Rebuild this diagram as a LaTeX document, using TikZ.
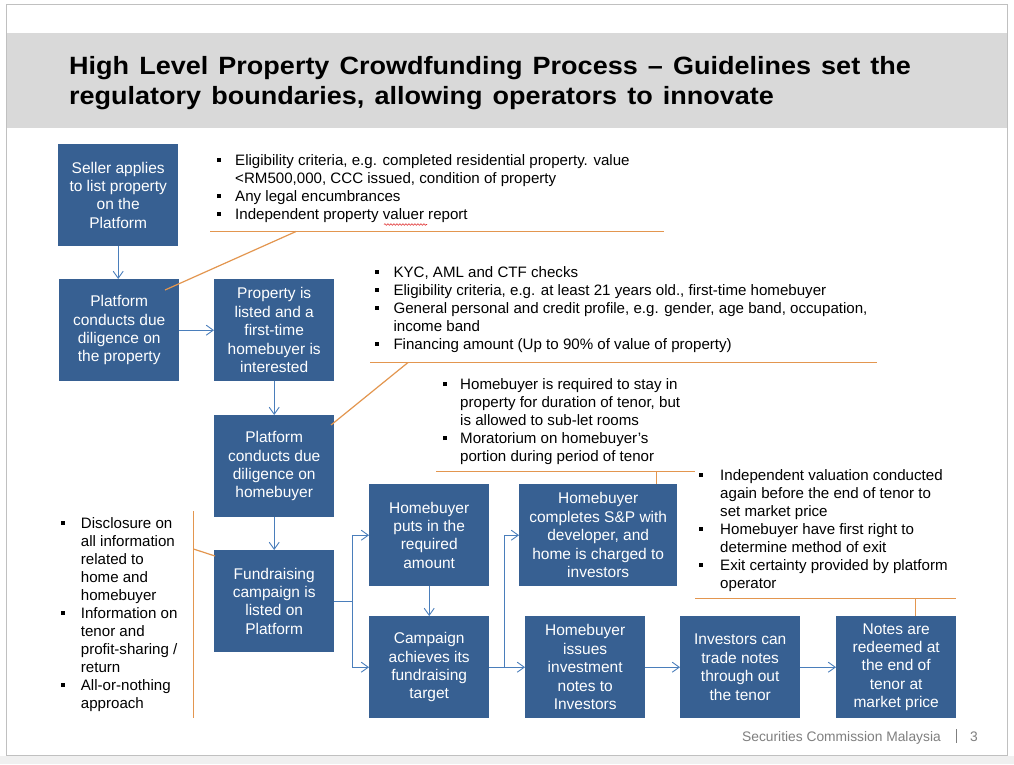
\documentclass[tikz,border=0pt]{standalone}
\usepackage{fontspec}
\setmainfont{Liberation Sans}
\newfontfamily\titlefont[FakeStretch=1.08,WordSpace=1.35]{Liberation Sans}
\usetikzlibrary{arrows.meta,decorations.pathmorphing}
\definecolor{boxblue}{HTML}{376092}
\definecolor{arrblue}{HTML}{4A7EBB}
\definecolor{calor}{HTML}{E3964F}
\definecolor{bandgray}{HTML}{D9D9D9}
\definecolor{framegray}{HTML}{C0C0C0}
\definecolor{footgray}{HTML}{7F7F7F}
\definecolor{outgray}{HTML}{F0F0F0}
\definecolor{spellred}{HTML}{E03030}
\newcommand\bul[1]{\llap{\raisebox{3.7pt}{\rule{4pt}{4pt}}\hspace{#1}}}
\begin{document}
\begin{tikzpicture}[x=1pt,y=-1pt,
  stepbox/.style={draw=none, fill=boxblue, text=white, minimum width=120pt, minimum height=102pt, inner sep=0pt, align=center, font=\fontsize{15.5}{18.4}\selectfont, anchor=north west},
  flow/.style={draw=arrblue, line width=0.9pt, -{Straight Barb[length=7pt,width=10pt]}},
  callout/.style={draw=calor, line width=1.2pt},
  notes/.style={inner sep=0pt, anchor=north west, align=left, font=\fontsize{15.1}{18}\selectfont, text=black},
  titletext/.style={inner sep=0pt, anchor=base west, font=\titlefont\fontsize{25}{30}\selectfont\bfseries}
]
\useasboundingbox (0,0) rectangle (1014,764);
\fill[white] (0,0) rectangle (1014,764);
\fill[outgray] (0,756) rectangle (1014,764);
\fill[white] (6,4) rectangle (1007,755);
\fill[bandgray] (6.5,33) rectangle (1006.5,128);
\draw[framegray, line width=0.8pt] (6,4) rectangle (1007,755);

% title
\node[titletext] (title1) at (69,74) {High Level Property Crowdfunding Process – Guidelines set the};
\node[titletext] (title2) at (69,104) {regulatory boundaries, allowing operators to innovate};

% boxes
\node[stepbox] (seller) at (58,144) {Seller applies\\to list property\\on the\\Platform};
\node[stepbox] (ddprop) at (59,279) {Platform\\conducts due\\diligence on\\the property};
\node[stepbox] (listed) at (214,279) {Property is\\listed and a\\first-time\\homebuyer is\\interested};
\node[stepbox] (ddbuyer) at (214,415) {Platform\\conducts due\\diligence on\\homebuyer};
\node[stepbox] (fund) at (214,550) {Fundraising\\campaign is\\listed on\\Platform};
\node[stepbox] (puts) at (369,484) {Homebuyer\\puts in the\\required\\amount};
\node[stepbox] (target) at (369,616) {Campaign\\achieves its\\fundraising\\target};
\node[stepbox, minimum width=158pt] (snp) at (519,484) {Homebuyer\\completes S\&P with\\developer, and\\home is charged to\\investors};
\node[stepbox] (issues) at (525,616) {Homebuyer\\issues\\investment\\notes to\\Investors};
\node[stepbox] (trade) at (680,616) {Investors can\\trade notes\\through out\\the tenor};
\node[stepbox] (redeem) at (836,616) {Notes are\\redeemed at\\the end of\\tenor at\\market price};

% flow connectors
\coordinate (j1) at (352.5,0);
\coordinate (j2) at (504.5,0);
\draw[flow] (seller.south) -- (seller.south |- ddprop.north);
\draw[flow] (ddprop.east) -- (listed.west);
\draw[flow] (listed.south) -- (ddbuyer.north);
\draw[flow] (ddbuyer.south) -- (fund.north);
\draw[flow] (fund.east) -- (fund.east -| j1) |- (puts.west);
\draw[flow] (fund.east -| j1) |- (target.west);
\draw[flow] (puts.south) -- (target.north);
\draw[flow] (target.east) -- (issues.west);
\draw[flow] (target.east -| j2) |- (snp.west);
\draw[flow] (issues.east) -- (trade.west);
\draw[flow] (trade.east) -- (redeem.west);

% callout lines
\coordinate (c1l) at (210,231.5); \coordinate (c1r) at (664,231.5);
\coordinate (c1k) at (296,231.5); \coordinate (c1e) at (165,290);
\draw[callout] (c1l) -- (c1r);
\draw[callout] (c1k) -- (c1e);
\coordinate (c2l) at (370,362.5); \coordinate (c2r) at (877,362.5);
\coordinate (c2k) at (408,362.5); \coordinate (c2e) at (331,425);
\draw[callout] (c2l) -- (c2r);
\draw[callout] (c2k) -- (c2e);
\coordinate (c3l) at (436,471.5); \coordinate (c3r) at (695,471.5);
\coordinate (c3k) at (656.5,471.5);
\draw[callout] (c3l) -- (c3r);
\draw[callout] (c3k) -- (c3k |- snp.north);
\coordinate (c4l) at (695,598.5); \coordinate (c4r) at (956,598.5);
\coordinate (c4k) at (915.5,598.5);
\draw[callout] (c4l) -- (c4r);
\draw[callout] (c4k) -- (c4k |- redeem.north);
\coordinate (c5t) at (193.5,511); \coordinate (c5b) at (193.5,718);
\coordinate (c5k) at (193.5,549); \coordinate (c5e) at (215,556);
\draw[callout] (c5t) -- (c5b);
\draw[callout] (c5k) -- (c5e);

% notes
\node[notes] (n1) at (235,152.9) {\bul{14.5pt}\strut Eligibility criteria, e.g. completed residential property. value\\
<RM500,000, CCC issued, condition of property\\
\bul{14.5pt}Any legal encumbrances\\
\bul{14.5pt}Independent property valuer report};
\node[notes] (n2) at (393.3,264.4) {\bul{14.3pt}\strut KYC, AML and CTF checks\\
\bul{14.3pt}Eligibility criteria, e.g. at least 21 years old., first-time homebuyer\\
\bul{14.3pt}General personal and credit profile, e.g. gender, age band, occupation,\\
income band\\
\bul{14.3pt}Financing amount (Up to 90\% of value of property)};
\node[notes] (n3) at (460,377) {\bul{13.7pt}\strut Homebuyer is required to stay in\\
property for duration of tenor, but\\
is allowed to sub-let rooms\\
\bul{13.7pt}Moratorium on homebuyer’s\\
portion during period of tenor};
\node[notes] (n4) at (720,467.4) {\bul{17pt}\strut Independent valuation conducted\\
again before the end of tenor to\\
set market price\\
\bul{17pt}Homebuyer have first right to\\
determine method of exit\\
\bul{17pt}Exit certainty provided by platform\\
operator};
\node[notes] (n5) at (80.7,515.4) {\bul{16pt}\strut Disclosure on\\
all information\\
related to\\
home and\\
homebuyer\\
\bul{16pt}Information on\\
tenor and\\
profit-sharing /\\
return\\
\bul{16pt}All-or-nothing\\
approach};

% spell-check squiggle under "valuer"
\coordinate (sq1) at (384,224.5); \coordinate (sq2) at (427,224.5);
\draw[spellred, line width=0.6pt, decorate, decoration={snake, segment length=3pt, amplitude=0.8pt}] (sq1) -- (sq2);

% footer
\node[inner sep=0pt, anchor=base east, font=\fontsize{13.8}{15}\selectfont, text=footgray] (foot) at (941,741.7) {Securities Commission Malaysia};
\coordinate (sept) at (956.5,729); \coordinate (sepb) at (956.5,743);
\draw[footgray, line width=0.8pt] (sept) -- (sepb);
\node[inner sep=0pt, anchor=base west, font=\fontsize{13.8}{15}\selectfont, text=footgray] (pagenum) at (970,741.7) {3};
\end{tikzpicture}
\end{document}
